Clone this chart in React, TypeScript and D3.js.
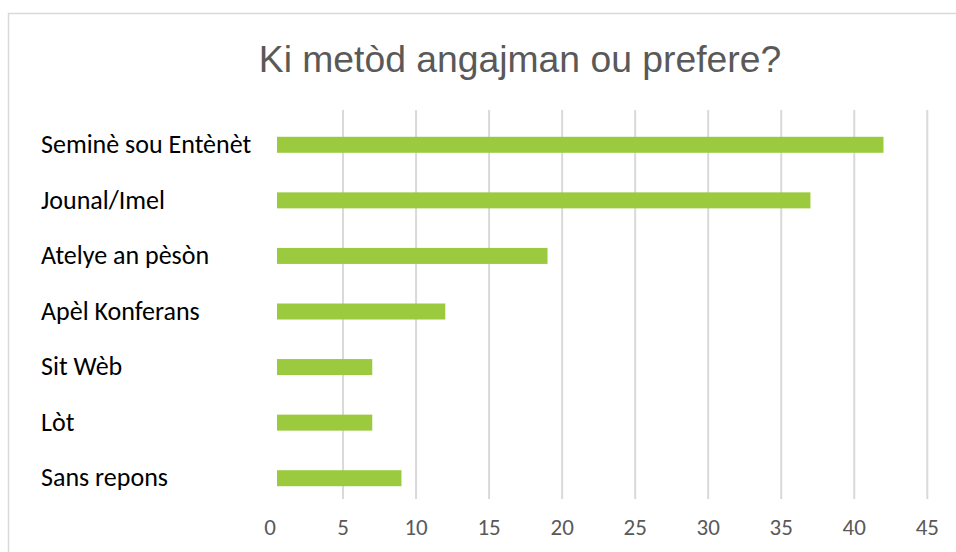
import * as React from 'react';
import {scaleBand, scaleLinear} from "d3";

const categories = [
    "Seminè sou Entènèt",
    "Jounal/Imel",
    "Atelye an pèsòn",
    "Apèl Konferans",
    "Sit Wèb",
    "Lòt",
    "Sans repons"
];
const values = [42, 37, 19, 12, 7, 7, 9];
const ticks = [0, 5, 10, 15, 20, 25, 30, 35, 40, 45];
const title = "Ki metòd angajman ou prefere?";

const W = 956;
const H = 552;
const plot = { left: 270, right: 927.3, top: 110, bottom: 499 };
// bars in the reference sit a few px right/down of the axis grid
const barShift = 7;

const xScale = scaleLinear()
    .domain([0, 45])
    .range([plot.left, plot.right]);

const yScale = scaleBand<string>()
    .domain(categories)
    .range([plot.top, plot.bottom])
    .paddingInner(0.712)
    .paddingOuter(0.356);

const labelFont = "Carlito, Calibri, Lato, sans-serif";

export default function App() {
    const grid = ticks.filter(t => t > 0).map(t =>
        <line
            key={t}
            x1={xScale(t)} x2={xScale(t)}
            y1={plot.top} y2={plot.bottom}
            stroke="#D9D9D9"
            strokeWidth={2}
        />
    );
    const bars = categories.map((c, i) =>
        <rect
            key={c}
            x={xScale(0) + barShift}
            y={yScale(c)! + barShift}
            width={xScale(values[i]) - xScale(0) - barShift}
            height={yScale.bandwidth()}
            fill="#9BCA3E"
        />
    );
    const catLabels = categories.map(c =>
        <text
            key={c}
            x={41}
            y={yScale(c)! + yScale.bandwidth() / 2 + barShift + 2}
            dominantBaseline="middle"
            fontFamily={labelFont}
            fontSize={26}
            fill="#000"
        >{c}</text>
    );
    const tickLabels = ticks.map(t =>
        <text
            key={t}
            x={xScale(t)}
            y={530}
            textAnchor="middle"
            dominantBaseline="middle"
            fontFamily={labelFont}
            fontSize={23}
            fill="#595959"
        >{t}</text>
    );
    return (
        <svg
            width={W}
            height={H}
            style={{position: 'absolute', left: 0, top: 0, background: '#fff'}}
        >
            <rect x={0} y={0} width={W} height={H} fill="#fff" />
            <path d={`M8.5,${H} V13.5 H${W}`} fill="none" stroke="#D9D9D9" strokeWidth={1.5} />
            <text
                x={520}
                y={62}
                textAnchor="middle"
                dominantBaseline="middle"
                fontFamily="'Liberation Sans', Arial, sans-serif"
                fontSize={37.3}
                fill="#595959"
            >{title}</text>
            {grid}
            {bars}
            {catLabels}
            {tickLabels}
        </svg>
    );
}
